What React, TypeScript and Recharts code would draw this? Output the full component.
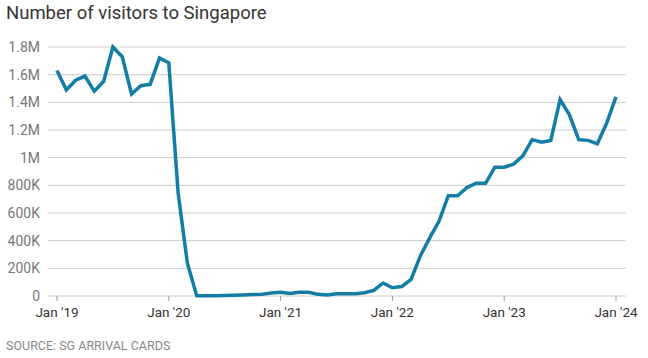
import React from 'react';
import { LineChart, Line, XAxis, YAxis, CartesianGrid } from 'recharts';

// monthly visitor arrivals, Jan 2019 .. Jan 2024
const visitors = [
  1630000, 1490000, 1560000, 1590000, 1480000, 1550000, 1800000, 1730000, 1460000, 1520000, 1530000, 1720000,
  1686000, 745000, 235000, 1000, 1000, 2000, 4000, 5000, 7000, 10000, 12000, 21000,
  27000, 19000, 27000, 27000, 12000, 7000, 17000, 17000, 17000, 24000, 41000, 94000,
  60000, 68000, 120000, 290000, 420000, 540000, 725000, 725000, 784000, 815000, 815000, 931000,
  931000, 953000, 1013000, 1130000, 1112000, 1125000, 1420000, 1310000, 1130000, 1125000, 1100000, 1250000,
  1440000,
];

const yearTicks = [0, 12, 24, 36, 48, 60];
const yearLabels = ["Jan '19", "Jan '20", "Jan '21", "Jan '22", "Jan '23", "Jan '24"];
const valueTicks = [0, 200000, 400000, 600000, 800000, 1000000, 1200000, 1400000, 1600000, 1800000];

const data = visitors.map((v, i) => ({ month: i, visitors: v }));

const fmtValue = (v: number) => {
  if (v === 0) return '0';
  if (v >= 1000000) return `${v / 1000000}M`;
  return `${v / 1000}K`;
};

const fmtYear = (v: number) => yearLabels[yearTicks.indexOf(v)] ?? '';

const font = 'Roboto, "Noto Sans", sans-serif';

const App = () => {
  return (
    <div style={{ position: 'absolute', top: 0, left: 0, width: 648, height: 358, background: '#fff', fontFamily: font }}>
      <div style={{ position: 'absolute', left: 6, top: 2, fontSize: 18.5, color: '#333' }}>
        Number of visitors to Singapore
      </div>
      <LineChart
        width={648}
        height={330}
        data={data}
        margin={{ top: 47, right: 22, bottom: 0, left: 0 }}
        style={{ position: 'absolute', top: 0, left: 0 }}
      >
        <CartesianGrid vertical={false} stroke="#cccccc" />
        <XAxis
          dataKey="month"
          type="number"
          domain={[0, 60]}
          ticks={yearTicks}
          tickFormatter={fmtYear}
          padding={{ left: 9, right: 10 }}
          axisLine={false}
          tickLine={{ stroke: '#999' }}
          tickSize={5}
          tickMargin={6}
          height={34}
          tick={{ fill: '#333', fontSize: 13.5, fontFamily: font }}
        />
        <YAxis
          domain={[0, 1800000]}
          ticks={valueTicks}
          tickFormatter={fmtValue}
          axisLine={false}
          tickLine={false}
          width={48}
          tick={{ fill: '#777', fontSize: 14, fontFamily: font }}
        />
        <Line
          type="linear"
          dataKey="visitors"
          stroke="#137da6"
          strokeWidth={3.5}
          dot={false}
          isAnimationActive={false}
        />
      </LineChart>
      <div style={{ position: 'absolute', left: 6, top: 338, fontSize: 12.5, color: '#888' }}>
        SOURCE: SG ARRIVAL CARDS
      </div>
    </div>
  );
};

export default App;
